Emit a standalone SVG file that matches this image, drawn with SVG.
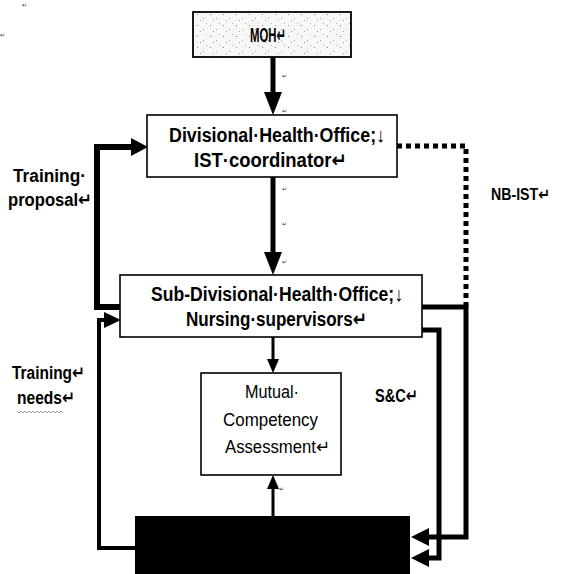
<svg xmlns="http://www.w3.org/2000/svg" width="561" height="574" viewBox="0 0 561 574">
<style>
  .box { fill: #ffffff; stroke: #000000; stroke-width: 1.6; }
  .lbl { font-family: "Liberation Sans", "DejaVu Sans", Arial, sans-serif; font-weight: bold; fill: #000000; }
  .reg { font-family: "Liberation Sans", "DejaVu Sans", Arial, sans-serif; font-weight: normal; fill: #000000; }
  .tiny { font-family: "DejaVu Sans", "Liberation Sans", sans-serif; font-size: 6px; fill: #333333; }
  .thick { fill: none; stroke: #000000; stroke-width: 5; stroke-linejoin: miter; }
  .thin { fill: none; stroke: #000000; stroke-width: 3; }
  .head { fill: #000000; stroke: none; }
</style>
<defs>
  <pattern id="speckle" width="13" height="11" patternUnits="userSpaceOnUse">
    <rect width="13" height="11" fill="#f7f7f7"/>
    <rect x="2" y="3" width="1" height="1" fill="#8a8a8a"/>
    <rect x="8" y="7" width="1" height="1" fill="#a0a0a0"/>
    <rect x="11" y="1" width="1" height="1" fill="#b5b5b5"/>
    <rect x="5" y="9" width="1" height="1" fill="#9a9a9a"/>
  </pattern>
</defs>

<rect width="561" height="574" fill="#ffffff"/>

<g id="connectors">
  <!-- MOH -> Divisional -->
  <line class="thick" x1="273" y1="57" x2="273" y2="95"/>
  <polygon class="head" points="264,92 282,92 273,115"/>
  <!-- Divisional -> Sub-Divisional -->
  <line class="thick" x1="273" y1="177" x2="273" y2="255"/>
  <polygon class="head" points="264,252 282,252 273,275"/>
  <!-- Training proposal -->
  <polyline class="thick" style="stroke-width:6" points="120,307 97,307 97,147 133,147"/>
  <polygon class="head" points="131,138 131,156 148,147"/>
  <!-- Training needs -->
  <polyline class="thick" style="stroke-width:4" points="135,548 99,548 99,320 106,320"/>
  <polygon class="head" points="104,312 104,328 121,320"/>
  <!-- Sub-Divisional -> Mutual -->
  <line class="thin" x1="273" y1="337" x2="273" y2="361"/>
  <polygon class="head" points="267,359 279,359 273,373"/>
  <!-- Bottom -> Mutual -->
  <line class="thin" x1="273" y1="516" x2="273" y2="487"/>
  <polygon class="head" points="267,489 279,489 273,475"/>
  <!-- NB-IST dotted -->
  <polyline fill="none" stroke="#000000" stroke-width="5" stroke-dasharray="5 4" points="397,146 466,146 466,306"/>
  <!-- S&C outer -->
  <polyline class="thick" points="422,307 466,307 466,537 428,537"/>
  <polygon class="head" points="429,528 429,546 411,537"/>
  <!-- S&C inner -->
  <polyline class="thick" points="422,330 439,330 439,558 428,558"/>
  <polygon class="head" points="429,549 429,567 411,558"/>
</g>

<g id="moh">
  <rect x="193" y="12" width="158" height="45" fill="url(#speckle)" stroke="#000000" stroke-width="1.8"/>
  <text class="lbl" x="250" y="42" font-size="20" textLength="36" lengthAdjust="spacingAndGlyphs">MOH↵</text>
</g>

<g id="divisional">
  <rect class="box" x="147" y="115" width="250" height="62"/>
  <text class="lbl" x="169" y="142" font-size="20" textLength="216" lengthAdjust="spacingAndGlyphs">Divisional·Health·Office;↓</text>
  <text class="lbl" x="194" y="167" font-size="20" textLength="153" lengthAdjust="spacingAndGlyphs">IST·coordinator↵</text>
</g>

<g id="subdivisional">
  <rect class="box" x="120" y="275" width="302" height="62"/>
  <text class="lbl" x="151" y="301" font-size="20" textLength="252" lengthAdjust="spacingAndGlyphs">Sub-Divisional·Health·Office;↓</text>
  <text class="lbl" x="186" y="326" font-size="20" textLength="181" lengthAdjust="spacingAndGlyphs">Nursing·supervisors↵</text>
</g>

<g id="mutual">
  <rect class="box" x="201" y="373" width="140" height="102"/>
  <text class="reg" x="245" y="398" font-size="18" textLength="54" lengthAdjust="spacingAndGlyphs">Mutual·</text>
  <text class="reg" x="223" y="426" font-size="18" textLength="95" lengthAdjust="spacingAndGlyphs">Competency</text>
  <text class="reg" x="225" y="453" font-size="18" textLength="105" lengthAdjust="spacingAndGlyphs">Assessment↵</text>
</g>

<g id="bottom">
  <rect x="135" y="516" width="275" height="58" fill="#000000"/>
</g>

<g id="labels">
  <text class="lbl" x="13" y="182" font-size="18" textLength="73" lengthAdjust="spacingAndGlyphs">Training·</text>
  <text class="lbl" x="8" y="206" font-size="18" textLength="84" lengthAdjust="spacingAndGlyphs">proposal↵</text>
  <text class="lbl" x="491" y="200" font-size="16.5" textLength="59" lengthAdjust="spacingAndGlyphs">NB-IST↵</text>
  <text class="lbl" x="12" y="379" font-size="18" textLength="73" lengthAdjust="spacingAndGlyphs">Training↵</text>
  <text class="lbl" x="17" y="404" font-size="18" textLength="58" lengthAdjust="spacingAndGlyphs">needs↵</text>
  <path d="M17,411 l2,2 l2,-2 l2,2 l2,-2 l2,2 l2,-2 l2,2 l2,-2 l2,2 l2,-2 l2,2 l2,-2 l2,2 l2,-2 l2,2 l2,-2 l2,2 l2,-2 l2,2 l2,-2 l2,2 l2,-2 l2,2" fill="none" stroke="#999999" stroke-width="1"/>
  <text class="lbl" x="375" y="402" font-size="18" textLength="43" lengthAdjust="spacingAndGlyphs">S&amp;C↵</text>
</g>

<g id="marks">
  <text class="tiny" x="22" y="7">↵</text>
  <text class="tiny" x="0" y="37">↵</text>
  <text class="tiny" x="282" y="78">↵</text>
  <text class="tiny" x="282" y="113">↵</text>
  <text class="tiny" x="282" y="191">↵</text>
  <text class="tiny" x="282" y="226">↵</text>
  <text class="tiny" x="282" y="264">↵</text>
  <text class="tiny" x="279" y="491">↵</text>
</g>
</svg>
